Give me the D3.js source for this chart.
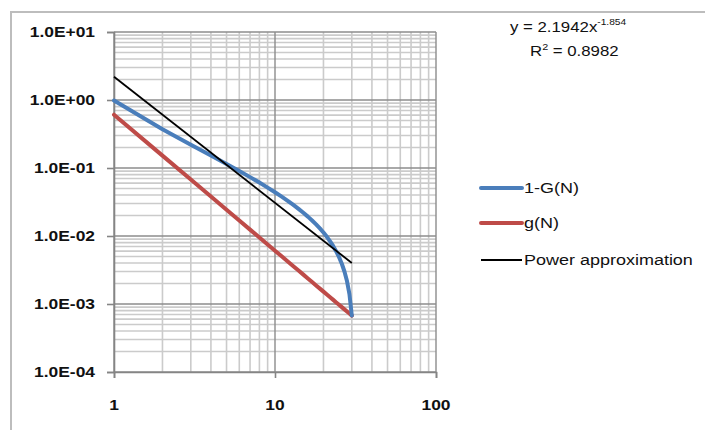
<!DOCTYPE html>
<html><head><meta charset="utf-8">
<script src="https://cdn.jsdelivr.net/npm/d3@7"></script>
<style>body{margin:0;background:#fff}svg{display:block}</style>
</head><body>
<svg id="c" width="705" height="430"></svg>
<script>
// ---- data ----
const N = [1,2,3,4,5,6,7,8,9,10,11,12,13,14,15,16,17,18,19,20,21,22,23,24,25,26,27,28,29,30];
const oneMinusG = [0.9801,0.3722,0.2202,0.1526,0.1146,0.09031,0.07342,0.06101,0.05151,0.04400,0.03792,0.03290,0.02868,0.02508,0.02198,0.01928,0.01690,0.01480,0.01292,0.01124,0.009718,0.008339,0.007083,0.005934,0.004879,0.003906,0.003007,0.002173,0.001398,0.000675];
const gN = [0.6079,0.1520,0.06755,0.03800,0.02432,0.01689,0.01241,0.009499,0.007505,0.006079,0.005024,0.004222,0.003597,0.003102,0.002702,0.002375,0.002104,0.001876,0.001684,0.001520,0.001379,0.001256,0.001149,0.001055,0.000973,0.000899,0.000834,0.000775,0.000723,0.000675];
const trendN = [1, 30];
const trendY = [2.1942, 0.004009];
const yTickLabels = ["1.0E-04","1.0E-03","1.0E-02","1.0E-01","1.0E+00","1.0E+01"];
const yTickValues = [1e-4,1e-3,1e-2,1e-1,1,10];
const xTickValues = [1,10,100];
const xTickLabels = ["1","10","100"];
const seriesNames = ["1-G(N)","g(N)","Power approximation"];
const seriesColors = ["#4a7ebb","#be4b48","#000000"];

const svg = d3.select("#c");
const x = d3.scaleLog().domain([1,100]).range([114,436]);
const y = d3.scaleLog().domain([1e-4,10]).range([372,32]);

// outer chart border
svg.append("path").attr("d","M11,431V12H706").attr("fill","none").attr("stroke","#bdbdbd").attr("stroke-width",2);

const isMajor = v => Math.abs(Math.log10(v) - Math.round(Math.log10(v))) < 1e-9;
const g = svg.append("g");
// minor grid
x.ticks().filter(v=>!isMajor(v)).forEach(v=>{
  g.append("line").attr("x1",x(v)).attr("x2",x(v)).attr("y1",y.range()[1]).attr("y2",y.range()[0]).attr("stroke","#cbcbcb").attr("stroke-width",1.6);
});
y.ticks().filter(v=>!isMajor(v)).forEach(v=>{
  g.append("line").attr("y1",y(v)).attr("y2",y(v)).attr("x1",x.range()[0]).attr("x2",x.range()[1]).attr("stroke","#cbcbcb").attr("stroke-width",1.6);
});
// major grid
xTickValues.forEach(v=>{
  g.append("line").attr("x1",x(v)).attr("x2",x(v)).attr("y1",y.range()[1]).attr("y2",y.range()[0]).attr("stroke","#8c8c8c").attr("stroke-width",1.4);
});
yTickValues.forEach(v=>{
  g.append("line").attr("y1",y(v)).attr("y2",y(v)).attr("x1",x.range()[0]).attr("x2",x.range()[1]).attr("stroke","#8c8c8c").attr("stroke-width",1.4);
});

// axes
const ya = svg.append("g").attr("transform",`translate(${x.range()[0]},0)`)
  .call(d3.axisLeft(y).tickValues(yTickValues).tickSize(7).tickFormat(""));
const xa = svg.append("g").attr("transform",`translate(0,${y.range()[0]})`)
  .call(d3.axisBottom(x).tickValues(xTickValues).tickSize(6).tickFormat(""));
[ya,xa].forEach(a=>{a.selectAll("path,line").attr("stroke","#858585").attr("stroke-width",1.6);});

function stext(px,py,txt,anchor,size,weight,sx){
  const gg = svg.append("g").attr("transform",`translate(${px},${py}) scale(${sx},1)`);
  return gg.append("text").attr("text-anchor",anchor).attr("font-family","Liberation Sans, Arial, sans-serif")
    .attr("font-size",size).attr("font-weight",weight||"normal").attr("fill","#111").text(txt);
}
yTickValues.forEach((v,i)=> stext(95, y(v)+5, yTickLabels[i], "end", 14.5, "bold", 1.2));
xTickValues.forEach((v,i)=> stext(x(v), 410, xTickLabels[i], "middle", 14.5, "bold", 1.2));

// series
const line = d3.line().x(d=>x(d[0])).y(d=>y(d[1]));
svg.append("path").datum(N.map((n,i)=>[n,gN[i]])).attr("d",line).attr("fill","none").attr("stroke",seriesColors[1]).attr("stroke-width",4).attr("stroke-linejoin","round").attr("stroke-linecap","round");
svg.append("path").datum(N.map((n,i)=>[n,oneMinusG[i]])).attr("d",line).attr("fill","none").attr("stroke",seriesColors[0]).attr("stroke-width",4).attr("stroke-linejoin","round").attr("stroke-linecap","round");
svg.append("path").datum(trendN.map((n,i)=>[n,trendY[i]])).attr("d",line).attr("fill","none").attr("stroke",seriesColors[2]).attr("stroke-width",1.8);

// legend
const legY = [188, 223, 260];
seriesNames.forEach((nm,i)=>{
  svg.append("line").attr("x1",481).attr("x2",522).attr("y1",legY[i]).attr("y2",legY[i])
    .attr("stroke",seriesColors[i]).attr("stroke-width",i<2?4:2).attr("stroke-linecap",i<2?"round":"butt");
  stext(524, legY[i]+5, nm, "start", 15, "normal", 1.2);
});

// equation
const eq = stext(510, 32, "y = 2.1942x", "start", 14, "normal", 1.2);
eq.append("tspan").attr("font-size",8.5).attr("dy",-7).text("-1.854");
const r2 = stext(530, 56, "R", "start", 14, "normal", 1.2);
r2.append("tspan").attr("font-size",9).attr("dy",-6).text("2");
r2.append("tspan").attr("dy",6).text(" = 0.8982");
</script>
</body></html>
